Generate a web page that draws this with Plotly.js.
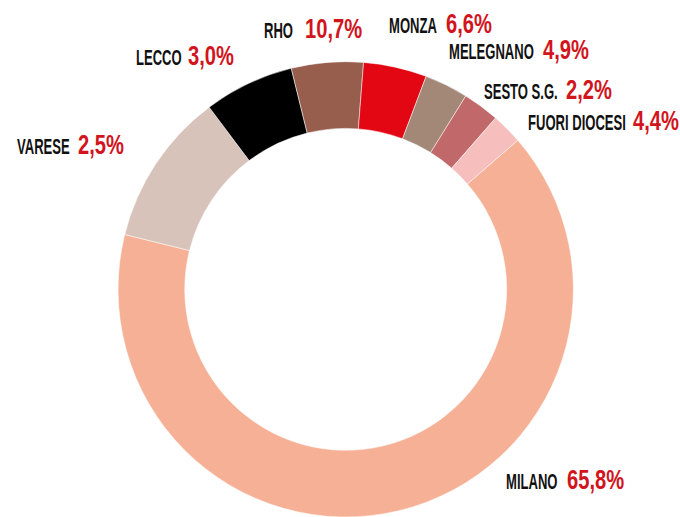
<!DOCTYPE html>
<html>
<head>
<meta charset="utf-8">
<script src="https://cdn.plot.ly/plotly-3.0.1.min.js"></script>
<style>html,body{margin:0;padding:0;background:#fff;}#chart{width:680px;height:517px;}</style>
</head>
<body>
<div id="chart"></div>
<script>
// Slice order, clockwise from Milano
var zones = ["MILANO", "VARESE", "LECCO", "RHO", "MONZA", "MELEGNANO", "SESTO S.G.", "FUORI DIOCESI"];
// Slice shares as drawn in the picture (%)
var sliceShares = [65.3, 10.9, 6.4, 5.1, 4.5, 3.1, 2.6, 2.2];
// Percentages printed next to each name in the picture
var printedLabels = ["65,8%", "2,5%", "3,0%", "10,7%", "6,6%", "4,9%", "2,2%", "4,4%"];
var sliceColors = ["#f5b096", "#d8c3ba", "#000000", "#975e4e", "#e30613", "#a38878", "#c0686a", "#f6bebc"];

// label placement in pixels: [name left, percent left, baseline] — layout only
var labelPos = [
  [505, 566, 489.5], [16, 76.7, 154.5], [135, 187, 64.7], [262.7, 304, 38],
  [387.7, 445.3, 33.2], [448.3, 542.3, 59.2], [482.7, 565, 99.2], [526.7, 632.3, 130]
];

var W = 680, H = 517;
var NAME_SIZE = 22.5, PCT_SIZE = 28;
var NAME_SCALE = 0.58, PCT_SCALE = 0.72;
var FONT = "Liberation Sans, Arial, sans-serif";

var annotations = [];
var scales = [];
zones.forEach(function (z, i) {
  var p = labelPos[i];
  annotations.push({
    xref: "paper", yref: "paper",
    x: (p[0] - 1) / W, y: 1 - (p[2] - 0.34 * NAME_SIZE) / H,
    xanchor: "left", yanchor: "middle", showarrow: false,
    text: z,
    font: { family: FONT, size: NAME_SIZE, color: "#111111", weight: 700 }
  });
  scales.push(NAME_SCALE);
  annotations.push({
    xref: "paper", yref: "paper",
    x: (p[1] - 1) / W, y: 1 - (p[2] - 0.34 * PCT_SIZE) / H,
    xanchor: "left", yanchor: "middle", showarrow: false,
    text: printedLabels[i],
    font: { family: FONT, size: PCT_SIZE, color: "#d2141c", weight: 700 }
  });
  scales.push(PCT_SCALE);
});

var data = [{
  type: "pie",
  labels: zones,
  values: sliceShares,
  sort: false,
  direction: "clockwise",
  rotation: 49.1,
  hole: 0.707,
  textinfo: "none",
  hoverinfo: "label+percent",
  marker: { colors: sliceColors, line: { color: "#ffffff", width: 0.5 } },
  domain: { x: [0.1728, 0.8440], y: [0, 0.8807] },
  showlegend: false
}];

var layout = {
  width: W, height: H,
  margin: { l: 0, r: 0, t: 0, b: 0 },
  paper_bgcolor: "#ffffff",
  showlegend: false,
  font: { family: FONT },
  annotations: annotations
};

Plotly.newPlot("chart", data, layout, { displayModeBar: false, staticPlot: true }).then(function () {
  // condense the label lettering horizontally (the reference uses a narrow display face)
  document.querySelectorAll("#chart .annotation").forEach(function (g) {
    var idx = +g.getAttribute("data-index");
    var t = g.querySelector("text.annotation-text");
    if (!t) return;
    var bb = t.getBBox();
    var s = scales[idx];
    t.setAttribute("transform", "translate(" + (bb.x * (1 - s)) + ",0) scale(" + s + ",1)");
  });
});
</script>
</body>
</html>
